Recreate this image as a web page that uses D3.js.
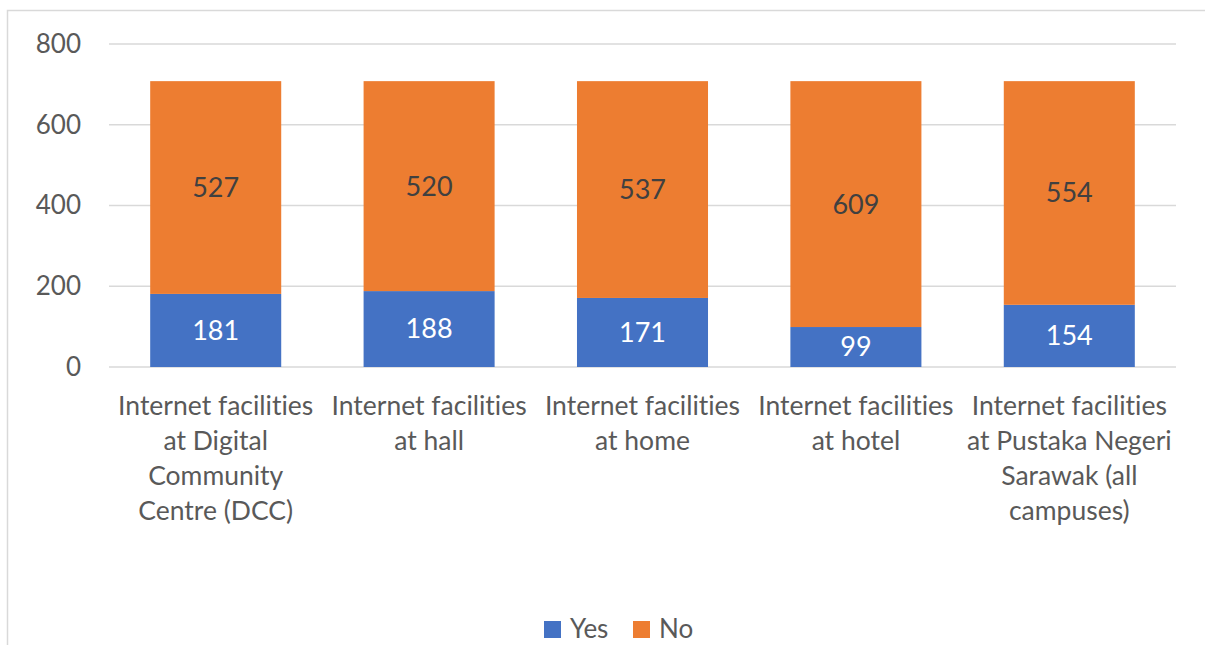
<!DOCTYPE html>
<html>
<head>
<meta charset="utf-8">
<script src="https://d3js.org/d3.v7.min.js"></script>
<style>
  body { margin: 0; background: #fff; }
  svg text { font-family: Lato, "Open Sans", sans-serif; font-variant-ligatures: none; }
</style>
</head>
<body>
<script>
var categories = [
  "Internet facilities at Digital Community Centre (DCC)",
  "Internet facilities at hall",
  "Internet facilities at home",
  "Internet facilities at hotel",
  "Internet facilities at Pustaka Negeri Sarawak (all campuses)"
];
var labelLines = [
  ["Internet facilities", "at Digital", "Community", "Centre (DCC)"],
  ["Internet facilities", "at hall"],
  ["Internet facilities", "at home"],
  ["Internet facilities", "at hotel"],
  ["Internet facilities", "at Pustaka Negeri", "Sarawak (all", "campuses)"]
];
var yes = [181, 188, 171, 99, 154];
var no = [527, 520, 537, 609, 554];
var seriesNames = ["Yes", "No"];
var colors = ["#4472c4", "#ed7d31"];
var yTicks = [0, 200, 400, 600, 800];

var width = 1205, height = 645;
var svg = d3.select("body").append("svg")
  .attr("width", width).attr("height", height);

// chart border (cropped on right/bottom)
svg.append("rect")
  .attr("x", 7.5).attr("y", 10.5)
  .attr("width", 1205).attr("height", 700)
  .attr("fill", "none").attr("stroke", "#d9d9d9").attr("stroke-width", 1.5);

var plotLeft = 109, plotRight = 1176, plotTop = 44, plotBottom = 367;

var x = d3.scaleBand().domain(categories).range([plotLeft, plotRight]).paddingInner(0.386).paddingOuter(0.193);
var y = d3.scaleLinear().domain([0, 800]).range([plotBottom, plotTop]);

// gridlines
svg.append("g").selectAll("line").data(yTicks).enter().append("line")
  .attr("x1", plotLeft).attr("x2", plotRight)
  .attr("y1", function(d) { return y(d); }).attr("y2", function(d) { return y(d); })
  .attr("stroke", "#d9d9d9").attr("stroke-width", 1.3);

// y axis labels
var yAxis = d3.axisLeft(y).tickValues(yTicks).tickSize(0).tickPadding(28);
var gy = svg.append("g").attr("transform", "translate(" + plotLeft + ",0)").call(yAxis);
gy.select(".domain").remove();
gy.selectAll("text").attr("fill", "#595959").style("font-size", "26px")
  .style("font-family", "Lato, sans-serif");

var stackData = categories.map(function(c, i) { return { cat: c, Yes: yes[i], No: no[i] }; });
var stack = d3.stack().keys(seriesNames)(stackData);

var layers = svg.append("g").selectAll("g").data(stack).enter().append("g")
  .attr("fill", function(d, i) { return colors[i]; });

layers.selectAll("rect").data(function(d) { return d; }).enter().append("rect")
  .attr("x", function(d) { return x(d.data.cat); })
  .attr("width", x.bandwidth())
  .attr("y", function(d) { return y(d[1]); })
  .attr("height", function(d) { return y(d[0]) - y(d[1]); });

// data labels
stack.forEach(function(layer, li) {
  svg.append("g").selectAll("text").data(layer).enter().append("text")
    .attr("x", function(d) { return x(d.data.cat) + x.bandwidth() / 2; })
    .attr("y", function(d) { return (y(d[0]) + y(d[1])) / 2; })
    .attr("dy", "0.35em")
    .attr("text-anchor", "middle")
    .attr("fill", li === 0 ? "#ffffff" : "#404040")
    .style("font-size", "27px")
    .text(function(d) { return d[1] - d[0]; });
});

// category labels
var catG = svg.append("g").selectAll("text").data(categories).enter().append("text")
  .attr("text-anchor", "middle")
  .attr("fill", "#595959")
  .style("font-size", "26.5px");
catG.each(function(c, i) {
  var t = d3.select(this);
  labelLines[i].forEach(function(line, j) {
    t.append("tspan")
      .attr("x", x(c) + x.bandwidth() / 2)
      .attr("y", 415 + j * 35)
      .text(line);
  });
});

// legend
var legend = svg.append("g").selectAll("g").data(seriesNames).enter().append("g")
  .attr("transform", function(d, i) { return "translate(" + (544 + i * 89) + ",621)"; });
legend.append("rect").attr("width", 17).attr("height", 17)
  .attr("fill", function(d, i) { return colors[i]; });
legend.append("text").attr("x", 26).attr("y", 17)
  .attr("fill", "#595959").style("font-size", "26px")
  .text(function(d) { return d; });
</script>
</body>
</html>
